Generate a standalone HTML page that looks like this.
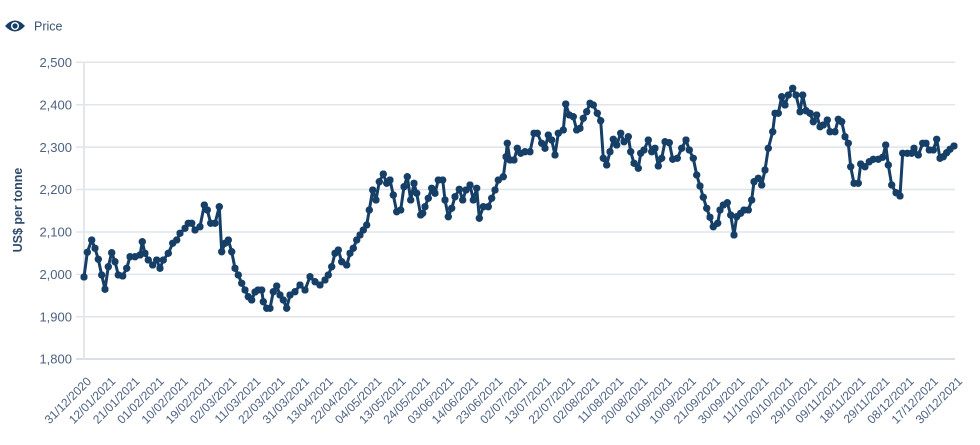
<!DOCTYPE html>
<html><head><meta charset="utf-8"><style>
html,body{margin:0;padding:0;background:#fff;}
svg{display:block;}
</style></head><body>
<svg width="980" height="445" viewBox="0 0 980 445" xmlns="http://www.w3.org/2000/svg" font-family="'Liberation Sans', sans-serif">
<defs>
<marker id="dot" viewBox="0 0 8 8" refX="4" refY="4" markerWidth="7.4" markerHeight="7.4" markerUnits="userSpaceOnUse">
<circle cx="4" cy="4" r="4" fill="#163f67"/>
</marker>
</defs>
<!-- legend -->
<g transform="translate(15,26)">
<path d="M-10,0 Q0,-11 10,0 Q0,11 -10,0 Z" fill="#173f66"/>
<circle cx="0" cy="0" r="4" fill="#fff"/>
<circle cx="0" cy="0" r="2.6" fill="#173f66"/>
</g>
<text x="34" y="30.5" font-size="12.5" fill="#3d5373">Price</text>
<!-- gridlines -->
<g stroke="#e0e5eb" stroke-width="1.5">
<line x1="76" y1="62.3" x2="955" y2="62.3"/>
<line x1="76" y1="104.7" x2="955" y2="104.7"/>
<line x1="76" y1="147.1" x2="955" y2="147.1"/>
<line x1="76" y1="189.5" x2="955" y2="189.5"/>
<line x1="76" y1="232" x2="955" y2="232"/>
<line x1="76" y1="274.4" x2="955" y2="274.4"/>
<line x1="76" y1="316.8" x2="955" y2="316.8"/>
</g>
<line x1="76" y1="359" x2="955" y2="359" stroke="#cdd4dd" stroke-width="1.5"/>
<line x1="84" y1="62" x2="84" y2="359" stroke="#e3e7ec" stroke-width="2"/>
<!-- y labels -->
<g font-size="13" fill="#4d6282" text-anchor="end">
<text x="72" y="67">2,500</text>
<text x="72" y="109.4">2,400</text>
<text x="72" y="151.8">2,300</text>
<text x="72" y="194.2">2,200</text>
<text x="72" y="236.7">2,100</text>
<text x="72" y="279.1">2,000</text>
<text x="72" y="321.5">1,900</text>
<text x="72" y="363.7">1,800</text>
</g>
<text transform="translate(22,210) rotate(-90)" text-anchor="middle" font-size="12.5" font-weight="bold" fill="#2d4a6b">US$ per tonne</text>
<!-- x labels -->
<g font-size="12" fill="#4d6282" text-anchor="end">
<text transform="translate(92,382) rotate(-45)">31/12/2020</text>
<text transform="translate(116.2,382) rotate(-45)">12/01/2021</text>
<text transform="translate(140.4,382) rotate(-45)">21/01/2021</text>
<text transform="translate(164.6,382) rotate(-45)">01/02/2021</text>
<text transform="translate(188.8,382) rotate(-45)">10/02/2021</text>
<text transform="translate(213,382) rotate(-45)">19/02/2021</text>
<text transform="translate(237.2,382) rotate(-45)">02/03/2021</text>
<text transform="translate(261.4,382) rotate(-45)">11/03/2021</text>
<text transform="translate(285.6,382) rotate(-45)">22/03/2021</text>
<text transform="translate(309.8,382) rotate(-45)">31/03/2021</text>
<text transform="translate(333.9,382) rotate(-45)">13/04/2021</text>
<text transform="translate(358.1,382) rotate(-45)">22/04/2021</text>
<text transform="translate(382.3,382) rotate(-45)">04/05/2021</text>
<text transform="translate(406.5,382) rotate(-45)">13/05/2021</text>
<text transform="translate(430.7,382) rotate(-45)">24/05/2021</text>
<text transform="translate(454.9,382) rotate(-45)">03/06/2021</text>
<text transform="translate(479.1,382) rotate(-45)">14/06/2021</text>
<text transform="translate(503.3,382) rotate(-45)">23/06/2021</text>
<text transform="translate(527.5,382) rotate(-45)">02/07/2021</text>
<text transform="translate(551.7,382) rotate(-45)">13/07/2021</text>
<text transform="translate(575.9,382) rotate(-45)">22/07/2021</text>
<text transform="translate(600.1,382) rotate(-45)">02/08/2021</text>
<text transform="translate(624.3,382) rotate(-45)">11/08/2021</text>
<text transform="translate(648.5,382) rotate(-45)">20/08/2021</text>
<text transform="translate(672.7,382) rotate(-45)">01/09/2021</text>
<text transform="translate(696.9,382) rotate(-45)">10/09/2021</text>
<text transform="translate(721.1,382) rotate(-45)">21/09/2021</text>
<text transform="translate(745.3,382) rotate(-45)">30/09/2021</text>
<text transform="translate(769.4,382) rotate(-45)">11/10/2021</text>
<text transform="translate(793.6,382) rotate(-45)">20/10/2021</text>
<text transform="translate(817.8,382) rotate(-45)">29/10/2021</text>
<text transform="translate(842,382) rotate(-45)">09/11/2021</text>
<text transform="translate(866.2,382) rotate(-45)">18/11/2021</text>
<text transform="translate(890.4,382) rotate(-45)">29/11/2021</text>
<text transform="translate(914.6,382) rotate(-45)">08/12/2021</text>
<text transform="translate(938.8,382) rotate(-45)">17/12/2021</text>
<text transform="translate(963,382) rotate(-45)">30/12/2021</text>
</g>
<!-- series -->
<polyline fill="none" stroke="#163f67" stroke-width="3" stroke-linejoin="round" marker-start="url(#dot)" marker-mid="url(#dot)" marker-end="url(#dot)" points="
84,277 87.3,252.3 91.7,240 95,248.3 98.3,259.3 101.7,275 105,289.3 108.3,266.7 111.7,252.7 115,261.7 118.3,275 122.7,276 126.7,268.3 130,256.7 135,256.7 140,255 142.3,241.7 145,253.3 148.3,260 152.7,265 156.7,260 160,268.3 163.3,260 168.3,253.3 172.7,243.3 176.7,240 180,233.3 185,228.3 188.3,223.3 191.7,223.3 195,230 200,226.7 204.3,205 207.3,210 210.7,223.3 215,223.3 219.3,206.7 221.7,251.7 225,243.3 228.3,240 231.7,251.7 235,268.3 238.3,275 241.7,283.3 245,290 248.3,296.7 251.7,300
255,292 258,290 261.7,290 263.3,301.7 266.7,308.3 270,308.3 273.3,291.7 276.7,286 280,295 283.3,300 286.7,308.3 290,295 295,291.7 300,285 305,290 310,276.7 315,281.7 320,285 325,280 328.3,275 331.7,266.7 335,253.3 338.3,250 341.7,261.7 346.7,265 350,253.3 353.3,248.3 356.7,240 360,235 363.3,230 366.7,225 369.3,210 372.7,190 376,200 379.3,181.7 383.3,174 386.7,183.3 390,180 393.3,195 396.7,211.7 400.7,210 404,186.7 407.3,176.7 410.7,200 414,183.3 416.7,193.3 420.7,215
422.7,213.3 425,206.7 428.3,198.3 431.7,188.3 435,193.3 438.3,180 442.7,180 445,200 448.3,216.7 451.7,208.3 455,196.7 459.3,189.3 462.7,200 466,190 470,185 473.3,200 476.7,188.3 479.3,218.3 483.3,206.7 488.3,206.7 491.7,198.3 495,190 498.3,180 503.3,176.7 506,156.7 507.3,143.3 510,160 514,160 517.3,148.3 520.7,153.3 525,151.7 530,151.7 534,133.3 537.3,133.3 541.7,143.3 545,148.3 548.3,135 551.7,140 555,155 558.3,133.3 563.3,130 565.7,104 569.3,115 573.3,116.7 576.7,130 580,128.3 583.3,118.3 586.7,111.7 590,103.3
593.3,105 597.3,113.3 600.7,120.7 603.3,158.3 606.7,165 610,151.7 613.3,139.3 616.7,145 620.7,133.3 624,141.7 628.3,136.7 630.7,151.7 634,163.3 638.3,168.3 640.7,153.3 644,150 648.3,140 651.7,151.7 655,148.3 658.3,166 661.7,158.3 665,141.7 669.3,142.7 672.7,159.3 677.3,158.3 681.7,148.3 686,140 689.3,150 693.3,158.3 696.7,175 700,186 703.3,197.3 706.7,208.3 710,217.3 713.3,226.7 717.7,223.3 720,210 723.3,205 727.3,202.7 730.7,215 734,235 736.7,216.7 740.7,213.3 744,210 748.3,210 751.7,200 754,181.7 758.3,178.3 761.7,185 765,170 768.3,148.3 772.7,131.7 775,113.3 778.3,113.3
781.7,96.7 785,105 788.3,95 792.7,88.3 796,95 800,111.7 802.7,95 806,110.7 810,113.3 813.3,121.7 816.7,115 820,126.7 823.3,125 827.3,120 830,131.7 835,131.7 838.3,119.3 841.7,121.7 845,136.7 848.3,143.3 850.7,166.7 854,183.3 858.3,183.3 860.7,164 865,166.7 869.3,161.7 873.3,159.3 878.3,159.3 882.7,157.3 885.7,145 888.3,165 891.7,185 896,192.7 900,196 902.7,153.3 907.3,153.3 911.7,153.3 914,148.3 918.3,155 922.7,143.3 926,143.3 929.3,150 933.3,150 936.7,139.3 940,158.3 943.3,156.7 946.7,152.7 950,149.3 954,146"/>
</svg>
</body></html>
